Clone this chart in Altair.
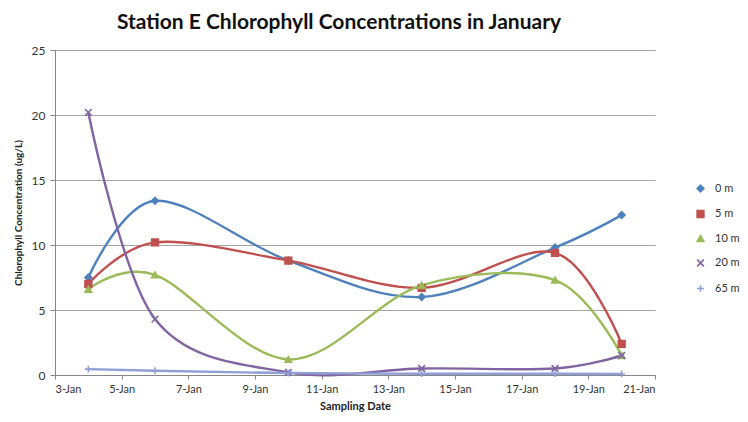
import altair as alt
import pandas as pd

series = ["0 m", "5 m", "10 m", "20 m", "65 m"]
days = [4, 6, 10, 14, 18, 20]  # day of January
v0 = [7.5, 13.4, 8.8, 6.0, 9.8, 12.3]
v5 = [7.0, 10.2, 8.8, 6.7, 9.4, 2.4]
v10 = [6.6, 7.7, 1.2, 6.9, 7.3, 1.5]
v20 = [20.2, 4.3, 0.2, 0.5, 0.5, 1.5]
v65 = [0.45, 0.33, 0.15, 0.1, 0.1, 0.08]
tick_days = [3, 5, 7, 9, 11, 13, 15, 17, 19, 21]
y_ticks = [0, 5, 10, 15, 20, 25]

colors = ["#4F81BD", "#C0504D", "#9BBB59", "#8064A2", "#8E9ED6"]
shapes = ["diamond", "square", "triangle-up",
          "M-1,-1L1,1M1,-1L-1,1", "M-1,0L1,0M0,-1L0,1"]

rows = []
for name, vals in zip(series, [v0, v5, v10, v20, v65]):
    for d, v in zip(days, vals):
        rows.append({"series": name, "day": d, "value": v})
df = pd.DataFrame(rows)

FONT = "Lato"
col_scale = alt.Scale(domain=series, range=colors)

x = alt.X("day:Q", title="Sampling Date",
          scale=alt.Scale(domain=[3, 21], nice=False, zero=False),
          axis=alt.Axis(values=tick_days, labelExpr="datum.value + '-Jan'", grid=False,
                        domainColor="#868686", tickColor="#868686", tickSize=4,
                        labelFontSize=11, labelColor="#333333", labelPadding=4,
                        titleFontSize=11, titleFontWeight="bold", titleColor="#222222",
                        titlePadding=6))
y = alt.Y("value:Q", title="Chlorophyll Concentration (ug/L)",
          scale=alt.Scale(domain=[0, 25], nice=False),
          axis=alt.Axis(values=y_ticks, grid=True, gridColor="#A6A6A6",
                        gridWidth=1.2, domainColor="#868686", tickColor="#868686",
                        tickSize=5, labelFontSize=12, labelColor="#333333", labelPadding=5,
                        titleFontSize=10, titleFontWeight="bold", titleColor="#222222",
                        titlePadding=8))

legend = alt.Legend(title=None, orient="none", legendX=640, legendY=133,
                    labelFont=FONT, labelFontSize=11, labelColor="#333333",
                    labelOffset=9, rowPadding=10.5, symbolSize=45, symbolStrokeWidth=1.6)

lines = alt.Chart(df).mark_line(interpolate="cardinal", strokeWidth=2.4).encode(
    x=x, y=y,
    color=alt.Color("series:N", scale=col_scale, sort=series, legend=legend),
    detail="series:N",
)

points = alt.Chart(df).mark_point(size=45, filled=False, strokeWidth=1.6, opacity=1).encode(
    x=x, y=y,
    color=alt.Color("series:N", scale=col_scale, sort=series, legend=legend),
    fill=alt.Fill("series:N", scale=col_scale, sort=series, legend=legend),
    shape=alt.Shape("series:N", scale=alt.Scale(domain=series, range=shapes), sort=series,
                    legend=legend),
)

chart = alt.layer(lines, points).properties(
    width=600, height=325,
    autosize=alt.AutoSizeParams(type="none"),
    padding={"left": 47, "top": 42, "right": 85, "bottom": 39},
    title=alt.Title("Station E Chlorophyll Concentrations in January",
                    font=FONT, fontSize=21, fontWeight="bold", color="#111111",
                    anchor="middle", offset=11, dx=-16),
).configure_view(stroke=None).configure_axis(labelFont=FONT, titleFont=FONT)

chart.save("out.html", embed_options={"renderer": "svg", "actions": False})
